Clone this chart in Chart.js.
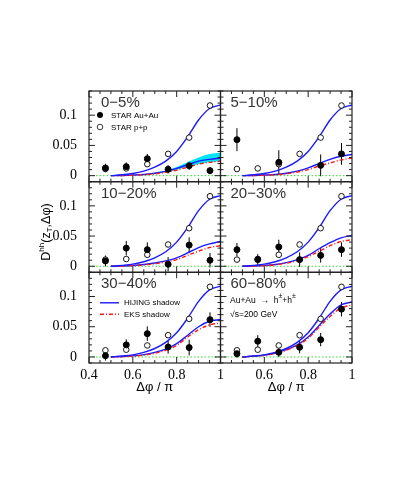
<!DOCTYPE html>
<html>
<head>
<meta charset="utf-8">
<script src="https://cdn.jsdelivr.net/npm/chart.js@4.4.1/dist/chart.umd.min.js"></script>
<style>
  html, body { margin: 0; padding: 0; background: #fff; }
  #wrap { position: relative; width: 415px; height: 485px; }
  #wrap canvas { position: absolute; left: 0; top: 0; }
</style>
</head>
<body>
<div id="wrap">
  <canvas id="p0" width="415" height="485"></canvas>
  <canvas id="p1" width="415" height="485"></canvas>
  <canvas id="p2" width="415" height="485"></canvas>
  <canvas id="p3" width="415" height="485"></canvas>
  <canvas id="p4" width="415" height="485"></canvas>
  <canvas id="p5" width="415" height="485"></canvas>
</div>
<script>
// Δφ/π bin centres of the STAR points
const dphi = [0.475, 0.570, 0.666, 0.761, 0.857, 0.952];
// STAR p+p (same in every panel)
const ppPoints = [0.011, 0.012, 0.019, 0.036, 0.063, 0.116];

// STAR Au+Au per centrality, with errors (null = not shown)
const auau00_05 = [0.0127, 0.0149, 0.028, 0.0105, 0.0165, 0.0083];
const err00_05  = [0.007, 0.007, 0.008, 0.007, 0.007, 0.006];
const auau05_10 = [0.0595, null, 0.022, null, 0.017, 0.036];
const err05_10  = [0.019, null, 0.020, null, 0.018, 0.018];
const auau10_20 = [0.0088, 0.030, 0.0275, 0.0033, 0.035, 0.010];
const err10_20  = [0.009, 0.012, 0.012, 0.012, 0.013, 0.012];
const auau20_30 = [0.0275, 0.011, 0.032, 0.011, 0.018, 0.0275];
const err20_30  = [0.011, 0.009, 0.012, 0.012, 0.012, 0.012];
const auau30_40 = [0.002, 0.020, 0.0385, 0.0165, 0.0155, 0.0617];
const err30_40  = [0.008, 0.009, 0.012, 0.011, 0.013, 0.012];
const auau60_80 = [0.0055, 0.026, 0.0077, 0.016, 0.0286, 0.079];
const err60_80  = [0.007, 0.010, 0.008, 0.010, 0.011, 0.012];

// model curves
const curveX  = [0.5, 0.55, 0.6, 0.65, 0.7, 0.75, 0.8, 0.85, 0.9, 0.95, 1.0];
const ppCurve = [0, 0.0015, 0.0035, 0.0075, 0.014, 0.024, 0.040, 0.064, 0.092, 0.111, 0.117];

const hijing00_05 = [0, 0.0003, 0.001, 0.002, 0.004, 0.007, 0.012, 0.018, 0.024, 0.027, 0.029];
const bandHi00_05 = [0, 0.0004, 0.0012, 0.0025, 0.005, 0.0085, 0.0145, 0.022, 0.030, 0.036, 0.038];
const bandLo00_05 = [0, 0.0002, 0.0008, 0.0016, 0.0033, 0.006, 0.0095, 0.015, 0.019, 0.022, 0.024];
const eks00_05    = [0, 0.0002, 0.0007, 0.0015, 0.003, 0.0055, 0.009, 0.014, 0.019, 0.022, 0.024];
const hijing05_10 = [0, 0.0003, 0.001, 0.002, 0.004, 0.0075, 0.013, 0.020, 0.027, 0.032, 0.035];
const eks05_10    = [0, 0.0002, 0.0007, 0.0015, 0.003, 0.006, 0.010, 0.016, 0.021, 0.026, 0.029];
const hijing10_20 = [0, 0.0004, 0.0013, 0.003, 0.0055, 0.009, 0.014, 0.022, 0.031, 0.037, 0.041];
const eks10_20    = [0, 0.0003, 0.001, 0.0022, 0.0042, 0.007, 0.011, 0.018, 0.025, 0.031, 0.034];
const hijing20_30 = [0, 0.0004, 0.0013, 0.003, 0.006, 0.011, 0.018, 0.029, 0.039, 0.047, 0.051];
const eks20_30    = [0, 0.0003, 0.001, 0.0025, 0.005, 0.009, 0.016, 0.025, 0.034, 0.041, 0.044];
const hijing30_40 = [0, 0.0006, 0.0017, 0.0038, 0.0075, 0.013, 0.022, 0.036, 0.050, 0.059, 0.062];
const eks30_40    = [0, 0.0004, 0.0013, 0.003, 0.006, 0.011, 0.019, 0.033, 0.045, 0.053, 0.056];
const hijing60_80 = [0, 0.0013, 0.003, 0.0065, 0.012, 0.020, 0.033, 0.052, 0.071, 0.086, 0.091];
const eks60_80    = [0, 0.0012, 0.0028, 0.006, 0.011, 0.019, 0.031, 0.049, 0.067, 0.081, 0.086];

const panelLabels = ['0−5%', '5−10%', '10−20%', '20−30%', '30−40%', '60−80%'];
const xTicks = [0.4, 0.6, 0.8, 1];
const yTicks = [0, 0.05, 0.1];

// panel frame edges in page pixels
const colEdges = [89, 220.5, 352];
const rowEdges = [91, 181.7, 272.3, 363];
const Y_AXIS_W = 40, X_AXIS_H = 24;

const SANS = '"Liberation Sans", Arial, sans-serif';
const SERIF = '"Liberation Serif", "Times New Roman", serif';

function pts(xs, ys, errs) {
  return xs.map((x, i) => ({ x: x, y: ys[i], e: errs ? errs[i] : 0 }))
           .filter(p => p.y !== null);
}

// draws a run of [text, size, dy] pieces
function rich(ctx, parts, x, y, align) {
  let w = 0;
  parts.forEach(p => { ctx.font = p[1] + 'px ' + SANS; w += ctx.measureText(p[0]).width; });
  let cx = align === 'center' ? x - w / 2 : x;
  ctx.textAlign = 'left';
  parts.forEach(p => {
    ctx.font = p[1] + 'px ' + SANS;
    ctx.fillText(p[0], cx, y + (p[2] || 0));
    cx += ctx.measureText(p[0]).width;
  });
}

const panelDecor = {
  id: 'panelDecor',
  beforeDatasetsDraw(chart) {
    const { ctx, chartArea: a } = chart;
    const xs = chart.scales.x, ys = chart.scales.y;
    ctx.save();
    // dotted zero line
    const y0 = ys.getPixelForValue(0);
    ctx.strokeStyle = '#33dd33';
    ctx.lineWidth = 1;
    ctx.setLineDash([1.5, 2]);
    ctx.beginPath(); ctx.moveTo(a.left, y0); ctx.lineTo(a.right, y0); ctx.stroke();
    ctx.setLineDash([]);
    // error bars of Au+Au points
    const ds = chart.data.datasets[0];
    ctx.strokeStyle = '#000';
    ctx.lineWidth = 1;
    ds.data.forEach(d => {
      const px = xs.getPixelForValue(d.x);
      ctx.beginPath();
      ctx.moveTo(px, ys.getPixelForValue(d.y - d.e));
      ctx.lineTo(px, ys.getPixelForValue(d.y + d.e));
      ctx.stroke();
    });
    ctx.restore();
  },
  afterDraw(chart, args, opts) {
    const { ctx, chartArea: a } = chart;
    const xs = chart.scales.x, ys = chart.scales.y;
    ctx.save();
    ctx.strokeStyle = '#222';
    ctx.lineWidth = 1.2;
    ctx.strokeRect(a.left, a.top, a.right - a.left, a.bottom - a.top);
    // inner ticks
    ctx.lineWidth = 1;
    ctx.beginPath();
    for (let k = 8; k <= 20; k++) {
      const px = xs.getPixelForValue(k * 0.05);
      const len = k % 4 === 0 ? 6 : 3;
      ctx.moveTo(px, a.bottom); ctx.lineTo(px, a.bottom - len);
      ctx.moveTo(px, a.top); ctx.lineTo(px, a.top + len);
    }
    for (let k = -1; k <= 14; k++) {
      const py = ys.getPixelForValue(k * 0.01);
      const len = k % 5 === 0 ? 6 : 3;
      ctx.moveTo(a.left, py); ctx.lineTo(a.left + len, py);
      ctx.moveTo(a.right, py); ctx.lineTo(a.right - len, py);
    }
    ctx.stroke();

    // centrality label
    ctx.fillStyle = '#333';
    ctx.textBaseline = 'alphabetic';
    ctx.textAlign = 'left';
    ctx.font = '15px ' + SANS;
    ctx.fillText(opts.label, a.left + opts.labelDx, a.top + 16);

    ctx.fillStyle = '#000';
    ctx.textBaseline = 'middle';
    if (opts.legend === 'star') {
      ctx.font = '8px ' + SANS;
      ctx.beginPath(); ctx.arc(a.left + 11, a.top + 24, 3, 0, Math.PI * 2); ctx.fill();
      ctx.fillText('STAR Au+Au', a.left + 22, a.top + 24.5);
      ctx.beginPath(); ctx.arc(a.left + 11, a.top + 36, 2.8, 0, Math.PI * 2);
      ctx.lineWidth = 0.9; ctx.stroke();
      ctx.fillText('STAR p+p', a.left + 22, a.top + 36.5);
    } else if (opts.legend === 'model') {
      ctx.font = '8px ' + SANS;
      ctx.lineWidth = 1.4;
      ctx.strokeStyle = '#1a1aff';
      ctx.beginPath(); ctx.moveTo(a.left + 11, a.top + 30.5); ctx.lineTo(a.left + 30, a.top + 30.5); ctx.stroke();
      ctx.fillText('HIJING shadow', a.left + 35, a.top + 30.5);
      ctx.strokeStyle = '#ff1a1a';
      ctx.setLineDash([4, 2, 1, 2]);
      ctx.beginPath(); ctx.moveTo(a.left + 11, a.top + 42); ctx.lineTo(a.left + 30, a.top + 42); ctx.stroke();
      ctx.setLineDash([]);
      ctx.fillText('EKS shadow', a.left + 35, a.top + 42);
    } else if (opts.legend === 'reaction') {
      rich(ctx, [['Au+Au  →  h', 8.5], ['±', 7, -4], ['+h', 8.5], ['±', 7, -4]], a.left + 9.5, a.top + 28);
      rich(ctx, [['√s=200 GeV', 8.5]], a.left + 9.5, a.top + 42);
    }

    ctx.textBaseline = 'middle';
    if (opts.xTitle) {
      rich(ctx, [['Δφ / π', 13]], (a.left + a.right) / 2, 387, 'center');
    }
    if (opts.yTitle) {
      ctx.translate(47, 232);
      ctx.rotate(-Math.PI / 2);
      rich(ctx, [['D', 12.5], ['hh', 8, -5], ['(z', 12.5], ['T', 8, 3], [',Δφ)', 12.5]], 0, 0, 'center');
    }
    ctx.restore();
  }
};

const panels = [
  { aa: auau00_05, err: err00_05, hij: hijing00_05, eks: eks00_05, hi: bandHi00_05, lo: bandLo00_05, legend: 'star' },
  { aa: auau05_10, err: err05_10, hij: hijing05_10, eks: eks05_10 },
  { aa: auau10_20, err: err10_20, hij: hijing10_20, eks: eks10_20, yTitle: true },
  { aa: auau20_30, err: err20_30, hij: hijing20_30, eks: eks20_30 },
  { aa: auau30_40, err: err30_40, hij: hijing30_40, eks: eks30_40, legend: 'model' },
  { aa: auau60_80, err: err60_80, hij: hijing60_80, eks: eks60_80, legend: 'reaction' }
];

panels.forEach((p, i) => {
  const row = Math.floor(i / 2), col = i % 2;
  const yW = col === 0 ? Y_AXIS_W : 0;
  const xH = row === 2 ? X_AXIS_H : 0;
  const curve = { showLine: true, pointRadius: 0, borderWidth: 1.4, fill: false, cubicInterpolationMode: 'monotone' };
  const datasets = [
    { label: 'STAR Au+Au', data: pts(dphi, p.aa, p.err), showLine: false, pointRadius: 3,
      pointBackgroundColor: '#000', pointBorderColor: '#000', pointBorderWidth: 1 },
    { label: 'STAR p+p', data: pts(dphi, ppPoints), showLine: false, pointRadius: 2.8,
      pointBackgroundColor: '#fff', pointBorderColor: '#000', pointBorderWidth: 0.9 },
    Object.assign({ label: 'HIJING p+p', data: pts(curveX, ppCurve), borderColor: '#1a1aff' }, curve),
    Object.assign({ label: 'EKS shadow', data: pts(curveX, p.eks), borderColor: '#ff1a1a', borderDash: [4, 2, 1, 2] }, curve),
    Object.assign({ label: 'HIJING shadow', data: pts(curveX, p.hij), borderColor: '#1a1aff' }, curve)
  ];
  if (p.hi) {
    datasets.push(Object.assign({}, curve, { label: 'band high', data: pts(curveX, p.hi), borderWidth: 0,
      borderColor: 'rgba(0,0,0,0)', backgroundColor: '#00e4f4', fill: '+1' }));
    datasets.push(Object.assign({}, curve, { label: 'band low', data: pts(curveX, p.lo), borderWidth: 0,
      borderColor: 'rgba(0,0,0,0)' }));
  }

  new Chart(document.getElementById('p' + i), {
    type: 'line',
    data: { datasets: datasets },
    options: {
      responsive: false,
      animation: false,
      devicePixelRatio: 1,
      events: [],
      layout: {
        padding: {
          left: colEdges[col] - yW, right: 415 - colEdges[col + 1],
          top: rowEdges[row], bottom: 485 - rowEdges[row + 1] - xH
        }
      },
      scales: {
        x: {
          type: 'linear', min: 0.4, max: 1.0,
          grid: { display: false, drawTicks: false }, border: { display: false },
          afterBuildTicks: s => { s.ticks = xTicks.map(v => ({ value: v })); },
          afterFit: s => { s.height = xH; },
          ticks: {
            display: row === 2, color: '#000', padding: 4, maxRotation: 0, autoSkip: false,
            font: { family: SERIF, size: 14 },
            callback: v => (col === 1 && v === 0.4) ? '' : String(v)
          }
        },
        y: {
          type: 'linear', min: -0.01, max: 0.14,
          grid: { display: false, drawTicks: false }, border: { display: false },
          afterBuildTicks: s => { s.ticks = yTicks.map(v => ({ value: v })); },
          afterFit: s => { s.width = yW; },
          ticks: {
            display: col === 0, color: '#000', padding: 12,
            font: { family: SERIF, size: 14 },
            callback: v => String(v)
          }
        }
      },
      plugins: {
        legend: { display: false },
        tooltip: { enabled: false },
        panelDecor: {
          label: panelLabels[i], labelDx: col === 0 ? 12 : 10,
          legend: p.legend || null, xTitle: row === 2, yTitle: !!p.yTitle
        }
      }
    },
    plugins: [panelDecor]
  });
});
</script>
</body>
</html>
